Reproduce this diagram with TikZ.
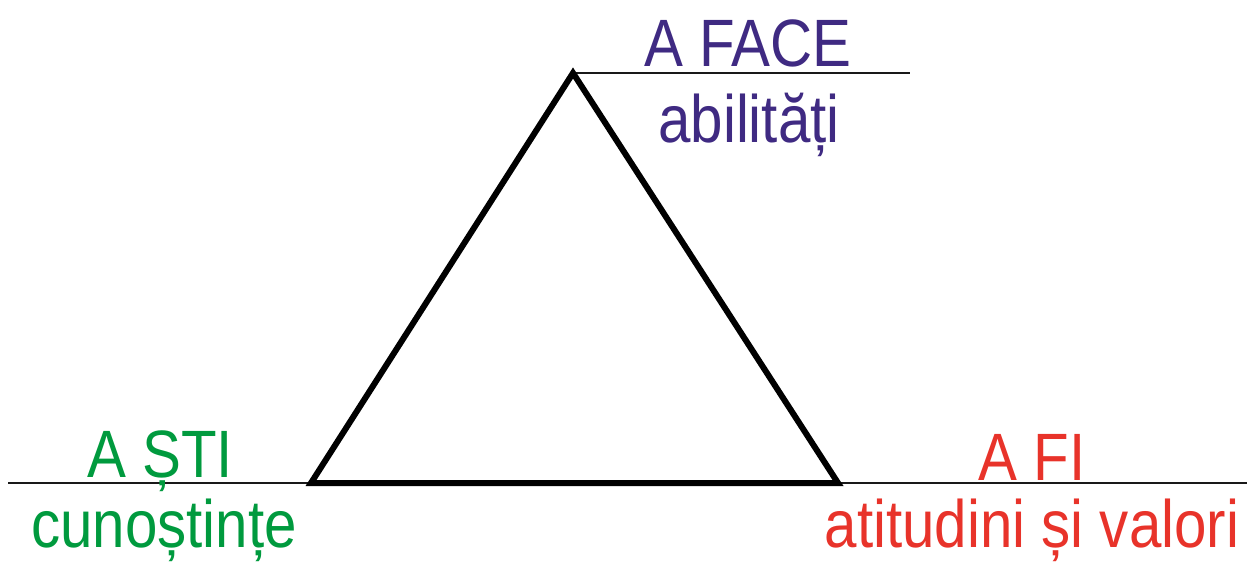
\documentclass[tikz,border=0pt]{standalone}
\usepackage{fontspec}
\usepackage{tikz}
\usetikzlibrary{positioning}
\newfontfamily\narrowsans[FakeStretch=0.87]{Liberation Sans}
\definecolor{facepurple}{HTML}{3F2A82}
\definecolor{stigreen}{HTML}{009A3E}
\definecolor{fired}{HTML}{E8332A}
\begin{document}
\begin{tikzpicture}[x=1pt, y=1pt, label/.style={anchor=base, inner sep=0pt, font=\fontsize{67}{70}\selectfont\narrowsans}, edge/.style={draw=black, line width=6pt, line join=miter}, rule/.style={draw=black!90, line width=1.6pt}]
\useasboundingbox (0,0) rectangle (1247,568);
\coordinate (top) at (573,495);
\coordinate (left) at (311,85);
\coordinate (right) at (838,85);
\coordinate (topend) at (910,495);
\coordinate (leftend) at (8,85);
\coordinate (rightend) at (1247,85);
\draw[rule] (top) -- (topend);
\draw[rule] (leftend) -- (left);
\draw[rule] (right) -- (rightend);
\draw[edge] (top) -- (left) -- (right) -- cycle;
\node[label, text=facepurple] (face) at (748,501) {A FACE};
\node[label, text=facepurple] (abil) at (749,425) {abilități};
\node[label, text=stigreen] (sti) at (160,91) {A ȘTI};
\node[label, text=stigreen] (cun) at (164,21) {cunoștințe};
\node[label, text=fired] (fi) at (1032,88) {A FI};
\node[label, text=fired] (atit) at (1032,21) {atitudini și valori};
\end{tikzpicture}
\end{document}
